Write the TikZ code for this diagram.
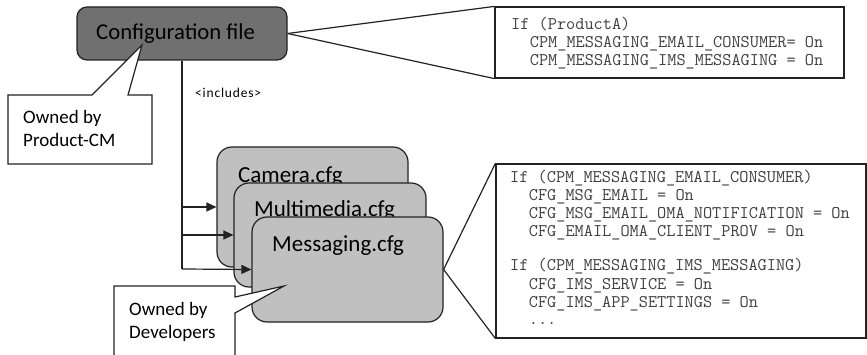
\documentclass[tikz,border=0pt]{standalone}
\usepackage{fontspec}
\setmainfont{Carlito}
\usetikzlibrary{arrows.meta}
\definecolor{darkbox}{HTML}{707070}
\definecolor{cfgbox}{HTML}{C0C0C0}
\definecolor{edge}{HTML}{222222}
\definecolor{codetxt}{HTML}{404040}
\tikzset{
  outline/.style={draw=edge, line width=1.2pt},
  mainbox/.style={outline, fill=darkbox, rounded corners=10pt, inner sep=0pt},
  cfgfile/.style={outline, fill=cfgbox, rounded corners=15pt, inner sep=0pt, minimum width=191pt},
  codebox/.style={outline, fill=white, inner sep=0pt},
  calloutbox/.style={outline, fill=white, line join=miter},
  lbl/.style={inner sep=0pt, anchor=base west, font=\fontsize{23}{27}\selectfont},
  note/.style={inner sep=0pt, anchor=base west, font=\fontsize{19}{23}\selectfont},
  code/.style={inner sep=0pt, anchor=base west, text=codetxt, font=\ttfamily\fontsize{17.8}{17.6}\selectfont},
  link/.style={draw=edge, line width=1.2pt},
  incl/.style={link, -{Triangle[length=10pt,width=9pt]}},
}
\begin{document}
\begin{tikzpicture}[x=1pt,y=-1pt]
\useasboundingbox (0,0) rectangle (867,355);

% configuration file
\node[mainbox, minimum width=210pt, minimum height=53pt] (conf) at (182,33.5) {};
\node[inner sep=0pt, anchor=base west, font=\fontsize{22.7}{27}\selectfont] (conftxt) at (96,40) {Configuration file};

% top code box
\node[codebox, minimum width=349pt, minimum height=71pt] (code1) at (669.5,42.5) {};
\draw[link] (conf.east) -- (code1.north west);
\draw[link] (conf.east) -- (code1.south west);
\node[code] (c1a) at (511,29.5) {If (ProductA)};
\node[code] (c1b) at (529.7,48) {CPM\_MESSAGING\_EMAIL\_CONSUMER= On};
\node[code] (c1c) at (529.7,65.5) {CPM\_MESSAGING\_IMS\_MESSAGING = On};

% includes label
\node[inner sep=0pt, anchor=base west, font=\fontsize{13.5}{15}\selectfont\addfontfeatures{LetterSpace=6}] (incl) at (195,98) {<includes>};

% cfg boxes
\node[cfgfile, minimum height=120pt] (cam) at (312.5,207) {};
\node[lbl] (camtxt) at (238,183) {Camera.cfg};
\node[cfgfile, minimum height=104pt, minimum width=192pt] (mm) at (330,235) {};
\node[lbl] (mmtxt) at (254,216.5) {Multimedia.cfg};
\node[cfgfile, minimum height=105pt] (msg) at (347.5,269.5) {};
\node[lbl] (msgtxt) at (272,252) {Messaging.cfg};

% includes connectors
\coordinate (bus) at (182,269);
\draw[link] (conf.south) -- (bus);
\draw[incl] (182,207) -- (cam.west);
\draw[incl] (182,235) -- (mm.west);
\draw[incl] (bus) -- (msg.west);

% lower code box
\node[codebox, minimum width=370pt, minimum height=174pt] (code2) at (681,251) {};
\draw[link] (msg.east) -- (code2.north west);
\draw[link] (msg.east) -- (code2.south west);
\node[code] (c2a) at (510,183) {If (CPM\_MESSAGING\_EMAIL\_CONSUMER)};
\node[code] (c2b) at (528.7,201) {CFG\_MSG\_EMAIL = On};
\node[code] (c2c) at (528.7,219) {CFG\_MSG\_EMAIL\_OMA\_NOTIFICATION = On};
\node[code] (c2d) at (528.7,236.5) {CFG\_EMAIL\_OMA\_CLIENT\_PROV = On};
\node[code] (c2e) at (510,271) {If (CPM\_MESSAGING\_IMS\_MESSAGING)};
\node[code] (c2f) at (528.7,289) {CFG\_IMS\_SERVICE = On};
\node[code] (c2g) at (528.7,307) {CFG\_IMS\_APP\_SETTINGS = On};
\node[code] (c2h) at (528.7,324) {...};

% callout: Product-CM
\coordinate (tip1) at (142,45);
\draw[calloutbox] (8,95) -- (92,95) -- (tip1) -- (128,95) -- (152,95) -- (152,164) -- (8,164) -- cycle;
\node[note] (own1a) at (23,124) {Owned by};
\node[note] (own1b) at (23,147) {Product-CM};

% callout: Developers
\coordinate (tip2) at (284,286);
\draw[calloutbox] (114,372) -- (114,286) -- (235,286) -- (235,297) -- (tip2) -- (235,313) -- (235,372);
\node[note] (own2a) at (129,315) {Owned by};
\node[note] (own2b) at (129,338) {Developers};
\end{tikzpicture}
\end{document}
